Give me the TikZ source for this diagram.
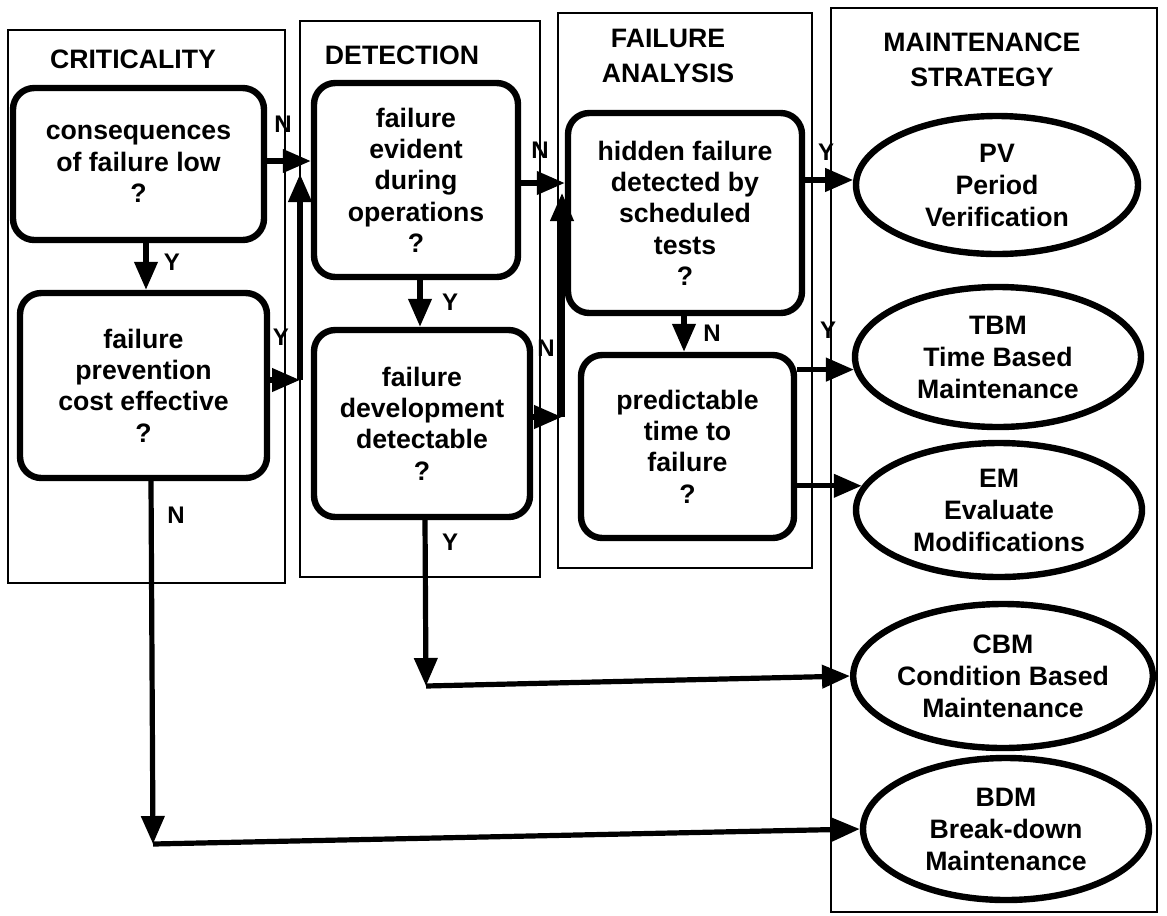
\documentclass[tikz,border=0pt]{standalone}
\usepackage{fontspec}
\setmainfont{Liberation Sans}
\usetikzlibrary{arrows.meta,shapes.geometric,calc}
\begin{document}
\begin{tikzpicture}[x=0.75pt,y=-0.75pt,
  lane/.style={draw,line width=1.6pt},
  title/.style={font=\fontsize{20}{26}\selectfont\bfseries,align=center,inner sep=0pt},
  qbox/.style={draw,line width=4.8pt,rounded corners=16pt,align=center,font=\fontsize{20}{23.5}\selectfont\bfseries,inner sep=0pt},
  strat/.style={draw,ellipse,line width=4.8pt,align=center,font=\fontsize{20}{24}\selectfont\bfseries,inner sep=0pt},
  conn/.style={line width=3.9pt,-{Triangle[length=21pt,width=17pt]}},
  lbl/.style={font=\fontsize{18}{20}\selectfont\bfseries,inner sep=0pt}
]
\useasboundingbox (0,0) rectangle (1167,915);
\fill[white] (0,0) rectangle (1167,915);

% lanes
\draw[lane] (8,30) rectangle (285,583);
\draw[lane] (300,21) rectangle (540,577);
\draw[lane] (558,13) rectangle (812,568);
\draw[lane] (831,8) rectangle (1157,912);

% titles
\node[title] (tCrit) at (133,59) {CRITICALITY};
\node[title] (tDet) at (402,55) {DETECTION};
\node[title] (tFA) at (668,56) {FAILURE\\ANALYSIS};
\node[title] (tMS) at (982,60) {MAINTENANCE\\STRATEGY};

% question boxes
\node[qbox,minimum width=188.25pt,minimum height=114pt] (C1) at (138.5,164) {consequences\\of failure low\\?};
\node[qbox,minimum width=185.25pt,minimum height=138.75pt] (C2) at (143.5,385.5) {failure\\prevention\\cost effective\\?};
\node[qbox,minimum width=153pt,minimum height=145.5pt] (D1) at (416,180) {failure\\evident\\during\\operations\\?};
\node[qbox,minimum width=162pt,minimum height=140.25pt] (D2) at (422,423.5) {failure\\development\\detectable\\?};
\node[qbox,minimum width=175.5pt,minimum height=150pt] (F1) at (685,213) {hidden failure\\detected by\\scheduled\\tests\\?};
\node[qbox,minimum width=159.75pt,minimum height=137.25pt] (F2) at (687.5,446.5) {predictable\\time to\\failure\\?};

% strategies
\node[strat,minimum width=211.5pt,minimum height=103.5pt] (PV) at (997,185) {PV\\Period\\Verification};
\node[strat,minimum width=214.5pt,minimum height=105pt] (TBM) at (998,357) {TBM\\Time Based\\Maintenance};
\node[strat,minimum width=214.5pt,minimum height=100.5pt] (EM) at (999,510) {EM\\Evaluate\\Modifications};
\node[strat,minimum width=214.5pt,minimum height=108pt] (CBM) at (1003,676) {CBM\\Condition Based\\Maintenance};
\node[strat,minimum width=214.5pt,minimum height=106.5pt] (BDM) at (1006,829) {BDM\\Break-down\\Maintenance};

% helper coordinates
\coordinate (y1) at (0,161);
\coordinate (x1) at (146,0);
\coordinate (y2) at (0,380);
\coordinate (jC2) at (300,380);
\coordinate (tipD1) at (300,174);
\coordinate (y3) at (0,183);
\coordinate (x3) at (420,0);
\coordinate (y4) at (0,417);
\coordinate (jD2) at (562,417);
\coordinate (tipF1) at (562,193);
\coordinate (x7) at (684,0);
\coordinate (x10) at (425,0);
\coordinate (jCBM) at (426,686);
\coordinate (x11) at (151,0);
\coordinate (jBDM) at (153,844);

% connectors
\draw[conn] (C1.east |- y1) -- (D1.west |- y1);
\node[lbl] (lN1) at (283,124) {N};

\draw[conn] (C1.south -| x1) -- (C2.north -| x1);
\node[lbl] (lY1) at (172,262) {Y};

\draw[conn] (C2.east |- y2) -- (jC2);
\draw[conn] (jC2) -- (tipD1);
\node[lbl] (lY2) at (281,337) {Y};

\draw[conn] (D1.east |- y3) -- (F1.west |- y3);
\node[lbl] (lN2) at (540,150) {N};

\draw[conn] (D1.south -| x3) -- (D2.north -| x3);
\node[lbl] (lY3) at (450,302) {Y};

\draw[conn] (D2.east |- y4) -- (jD2);
\draw[conn] (jD2) -- (tipF1);
\node[lbl] (lN3) at (546,348) {N};

\draw[conn] (F1.east |- PV.178) -- (PV.178);
\node[lbl] (lY4) at (826,152) {Y};

\draw[conn] (F1.south -| x7) -- (F2.north -| x7);
\node[lbl] (lN4) at (712,333) {N};

\draw[conn] (F2.east |- TBM.185) -- (TBM.185);
\node[lbl] (lY5) at (828,330) {Y};

\draw[conn] (F2.east |- EM.170) -- (EM.170);

\draw[conn] (D2.south -| x10) -- (jCBM);
\draw[conn] (jCBM) -- (CBM.west);
\node[lbl] (lY6) at (450,542) {Y};

\draw[conn] (C2.south -| x11) -- (jBDM);
\draw[conn] (jBDM) -- (BDM.west);
\node[lbl] (lN5) at (176,515) {N};
\end{tikzpicture}
\end{document}
